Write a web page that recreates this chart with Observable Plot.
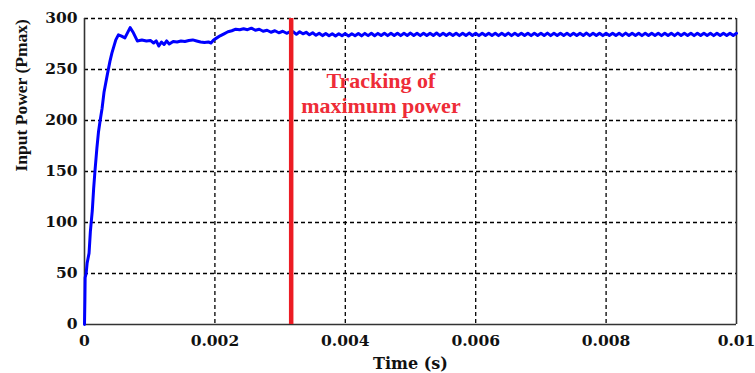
<!DOCTYPE html>
<html>
<head>
<meta charset="utf-8">
<script src="https://cdn.jsdelivr.net/npm/d3@7"></script>
<script src="https://cdn.jsdelivr.net/npm/@observablehq/plot@0.6"></script>
<style>
  html, body { margin: 0; padding: 0; background: #fff; }
  #chart { width: 755px; height: 373px; }
</style>
</head>
<body>
<div id="chart"></div>
<script>
// Transient part (time in s, power)
const tTransient = [0, 0.000006, 0.00001, 0.000025, 0.00004, 0.00007, 0.00009, 0.00012, 0.00014, 0.00016,
  0.00019, 0.000215, 0.00024, 0.00027, 0.0003, 0.00035, 0.00039, 0.00042, 0.00048, 0.00052,
  0.00056, 0.00062, 0.0007, 0.00075, 0.00081, 0.00088, 0.00095, 0.00101, 0.00106, 0.0011,
  0.00114, 0.00118, 0.00122, 0.00126, 0.0013, 0.00136, 0.00142, 0.00148, 0.00154, 0.0016,
  0.00166, 0.00172, 0.00178, 0.00184, 0.0019, 0.00194, 0.00198, 0.00203, 0.00208, 0.00214,
  0.0022, 0.00226, 0.00232, 0.00238, 0.00244, 0.0025, 0.00256, 0.00262, 0.00268, 0.00274,
  0.0028, 0.00286, 0.00292, 0.00298, 0.00304, 0.0031, 0.00315];
const pTransient = [0, 24, 46, 50, 60, 70, 91, 112, 133, 150,
  173, 189, 200, 212, 228, 245, 258, 266, 279, 284,
  283, 281, 291, 286, 278, 279, 278, 278.5, 276, 278,
  273, 277, 274.5, 278, 275, 277.5, 277, 278, 277.5, 278.5,
  279, 278, 277, 276.5, 277, 276, 279, 281, 283, 285,
  287, 288, 289.5, 289, 290, 289, 290.5, 288.5, 289.5, 287.5,
  288.5, 286.5, 288, 286, 287.5, 285.5, 287];

// Steady-state ripple part
const tSteady = [
  0.00320,0.00325,0.00330,0.00335,0.00340,0.00345,0.00350,0.00355,0.00360,0.00365,
  0.00370,0.00375,0.00380,0.00385,0.00390,0.00395,0.00400,0.00405,0.00410,0.00415,
  0.00420,0.00425,0.00430,0.00435,0.00440,0.00445,0.00450,0.00455,0.00460,0.00465,
  0.00470,0.00475,0.00480,0.00485,0.00490,0.00495,0.00500,0.00505,0.00510,0.00515,
  0.00520,0.00525,0.00530,0.00535,0.00540,0.00545,0.00550,0.00555,0.00560,0.00565,
  0.00570,0.00575,0.00580,0.00585,0.00590,0.00595,0.00600,0.00605,0.00610,0.00615,
  0.00620,0.00625,0.00630,0.00635,0.00640,0.00645,0.00650,0.00655,0.00660,0.00665,
  0.00670,0.00675,0.00680,0.00685,0.00690,0.00695,0.00700,0.00705,0.00710,0.00715,
  0.00720,0.00725,0.00730,0.00735,0.00740,0.00745,0.00750,0.00755,0.00760,0.00765,
  0.00770,0.00775,0.00780,0.00785,0.00790,0.00795,0.00800,0.00805,0.00810,0.00815,
  0.00820,0.00825,0.00830,0.00835,0.00840,0.00845,0.00850,0.00855,0.00860,0.00865,
  0.00870,0.00875,0.00880,0.00885,0.00890,0.00895,0.00900,0.00905,0.00910,0.00915,
  0.00920,0.00925,0.00930,0.00935,0.00940,0.00945,0.00950,0.00955,0.00960,0.00965,
  0.00970,0.00975,0.00980,0.00985,0.00990,0.00995,0.01000];
const pSteady = [
  287,284.5,287,285,286.5,284,286,283.5,285.5,283.2,
  285.2,283,285,282.8,285,283,285.2,282.9,285,283.1,
  285.3,283,285.4,283.2,285.5,283.1,285.4,283.3,285.6,283.2,
  285.5,283.3,285.6,283.2,285.5,283.4,285.7,283.3,285.5,283.2,
  285.6,283.3,285.5,283.4,285.8,283.2,285.6,283.3,285.5,283.4,
  285.6,283.2,285.5,283.3,285.7,283.4,285.5,283.2,285.6,283.3,
  285.5,283.4,285.6,283.2,285.5,283.3,285.7,283.2,285.5,283.4,
  285.6,283.3,285.5,283.2,285.6,283.4,285.5,283.3,285.7,283.2,
  285.5,283.3,285.6,283.4,285.5,283.2,285.6,283.3,285.5,283.4,
  285.7,283.2,285.5,283.3,285.6,283.2,285.5,283.4,285.6,283.3,
  285.5,283.2,285.7,283.3,285.5,283.4,285.6,283.2,285.5,283.3,
  285.6,283.4,285.5,283.2,285.6,283.3,285.5,283.2,285.7,283.3,
  285.5,283.4,285.6,283.2,285.5,283.3,285.6,283.4,285.5,283.2,
  285.6,283.3,285.5,283.4,285.6,283.3,285.5];

const xTicks = [0, 0.002, 0.004, 0.006, 0.008, 0.01];
const xTickLabels = ["0", "0.002", "0.004", "0.006", "0.008", "0.01"];
const yTicks = [0, 50, 100, 150, 200, 250, 300];
const yTickLabels = ["0", "50", "100", "150", "200", "250", "300"];
const trackingTime = 0.00317;
const annotationLines = ["Tracking of", "maximum power"];
const annotationX = 0.004546;
const annotationY = [239, 214.5];
const xLabel = "Time (s)";
const yLabel = "Input Power (Pmax)";

const data = [];
tTransient.forEach((t, i) => data.push({t, p: pTransient[i]}));
tSteady.forEach((t, i) => data.push({t, p: pSteady[i]}));

const tickFont = "'DejaVu Serif', serif";
const chart = Plot.plot({
  width: 755,
  height: 373,
  marginLeft: 84,
  marginRight: 19,
  marginTop: 18,
  marginBottom: 49,
  style: {background: "#fff", overflow: "visible"},
  x: {domain: [0, 0.01]},
  y: {domain: [0, 300]},
  marks: [
    Plot.gridX(xTicks.slice(1, -1), {stroke: "#000", strokeOpacity: 1, strokeWidth: 1.3, strokeDasharray: "4,3"}),
    Plot.gridY(yTicks.slice(1), {stroke: "#000", strokeOpacity: 1, strokeWidth: 1.3, strokeDasharray: "4,3"}),
    Plot.ruleX([0, 0.01], {stroke: "#333", strokeWidth: 1.6}),
    Plot.ruleY([0], {stroke: "#333", strokeWidth: 1.6}),
    Plot.line(data, {x: "t", y: "p", stroke: "#0000ff", strokeWidth: 3}),
    Plot.ruleX([trackingTime], {y1: 0, y2: 300, stroke: "#ec1c24", strokeWidth: 4.5}),
    Plot.text(annotationLines, {
      x: annotationX, y: (d, i) => annotationY[i], text: d => d,
      fill: "#ee2c37", fontSize: 22, fontWeight: "bold",
      fontFamily: "'Liberation Serif', 'Times New Roman', serif"
    }),
    Plot.axisX(xTicks, {
      tickSize: 0, tickPadding: 10,
      tickFormat: (d, i) => xTickLabels[i],
      fontSize: 15.5, fontWeight: "bold", fontFamily: tickFont, fill: "#111",
      label: null
    }),
    Plot.axisY(yTicks, {
      tickSize: 0, tickPadding: 7,
      tickFormat: (d, i) => yTickLabels[i],
      fontSize: 15.5, fontWeight: "bold", fontFamily: tickFont, fill: "#111",
      label: null
    }),
    Plot.text([xLabel], {
      frameAnchor: "bottom", dy: 44, text: d => d,
      fontSize: 16, fontWeight: "bold", fontFamily: tickFont, fill: "#111"
    }),
    Plot.text([yLabel], {
      frameAnchor: "left", dx: -63, rotate: -90, text: d => d,
      fontSize: 17.5, fontWeight: "bold",
      fontFamily: "'Liberation Serif', 'Times New Roman', serif", fill: "#111"
    })
  ]
});
document.getElementById("chart").appendChild(chart);
</script>
</body>
</html>
